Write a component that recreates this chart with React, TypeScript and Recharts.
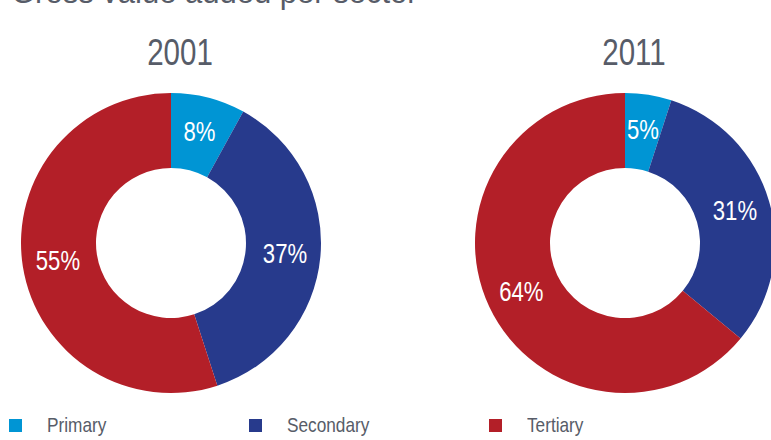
import React from 'react';
import { PieChart, Pie, Cell, Legend } from 'recharts';

// sectors and shares (%)
const sectors = ['Primary', 'Secondary', 'Tertiary'];
const share2001 = [8, 37, 55];
const share2011 = [5, 31, 64];
const years = ['2001', '2011'];
const title = 'Gross value added per sector';

const COLORS = ['#0095d4', '#273a8c', '#b31f28'];
const FONT = "'Liberation Sans', Arial, sans-serif";
const TEXT = '#575c68';
const SQUEEZE = 0.82; // condensed look

const toRows = (vals: number[]) => sectors.map((name, i) => ({ name, value: vals[i] }));

const RADIAN = Math.PI / 180;
const renderLabel = (props: any) => {
  const { cx, cy, midAngle, innerRadius, outerRadius, value } = props;
  const r = (innerRadius + outerRadius) / 2 + 2;
  const x = cx + r * Math.cos(-midAngle * RADIAN);
  const y = cy + r * Math.sin(-midAngle * RADIAN);
  return (
    <text
      x={0}
      y={0}
      transform={`translate(${x},${y}) scale(${SQUEEZE},1)`}
      fill="#fff"
      textAnchor="middle"
      dominantBaseline="central"
      style={{ fontFamily: FONT, fontSize: 27 }}
    >
      {`${value}%`}
    </text>
  );
};

const renderLegend = () => (
  <div style={{ position: 'relative', height: 24 }}>
    {sectors.map((s, i) => (
      <div
        key={s}
        style={{ position: 'absolute', left: 9 + i * 240, top: 0, display: 'flex', alignItems: 'center' }}
      >
        <span style={{ width: 13, height: 13, background: COLORS[i], display: 'inline-block' }} />
        <span
          style={{
            marginLeft: 25,
            fontFamily: FONT,
            fontSize: 21,
            color: TEXT,
            display: 'inline-block',
            transform: `scaleX(${SQUEEZE})`,
            transformOrigin: 'left center',
          }}
        >
          {s}
        </span>
      </div>
    ))}
  </div>
);

export default function App() {
  const centers = [171, 625];
  const data = [toRows(share2001), toRows(share2011)];
  return (
    <div style={{ position: 'absolute', left: 0, top: 0, width: 771, height: 440, overflow: 'hidden', background: '#fff' }}>
      <div
        style={{
          position: 'absolute',
          left: 11,
          top: -25,
          fontFamily: FONT,
          fontSize: 31,
          color: TEXT,
          whiteSpace: 'nowrap',
        }}
      >
        {title}
      </div>
      {years.map((y, i) => (
        <div
          key={y}
          style={{
            position: 'absolute',
            left: centers[i] + 9 - 60,
            width: 120,
            top: 32,
            textAlign: 'center',
            fontFamily: FONT,
            fontSize: 36,
            color: TEXT,
            transform: `scaleX(${SQUEEZE})`,
          }}
        >
          {y}
        </div>
      ))}
      <PieChart width={771} height={440} margin={{ top: 0, right: 0, bottom: 0, left: 0 }}>
        {data.map((rows, k) => (
          <Pie
            key={years[k]}
            data={rows}
            dataKey="value"
            nameKey="name"
            cx={centers[k]}
            cy={243}
            innerRadius={75}
            outerRadius={150}
            startAngle={90}
            endAngle={-270}
            stroke="none"
            label={renderLabel}
            labelLine={false}
            isAnimationActive={false}
          >
            {rows.map((r, i) => (
              <Cell key={r.name} fill={COLORS[i]} />
            ))}
          </Pie>
        ))}
        <Legend
          content={renderLegend}
          wrapperStyle={{ position: 'absolute', left: 0, top: 413, width: 771 }}
        />
      </PieChart>
    </div>
  );
}
